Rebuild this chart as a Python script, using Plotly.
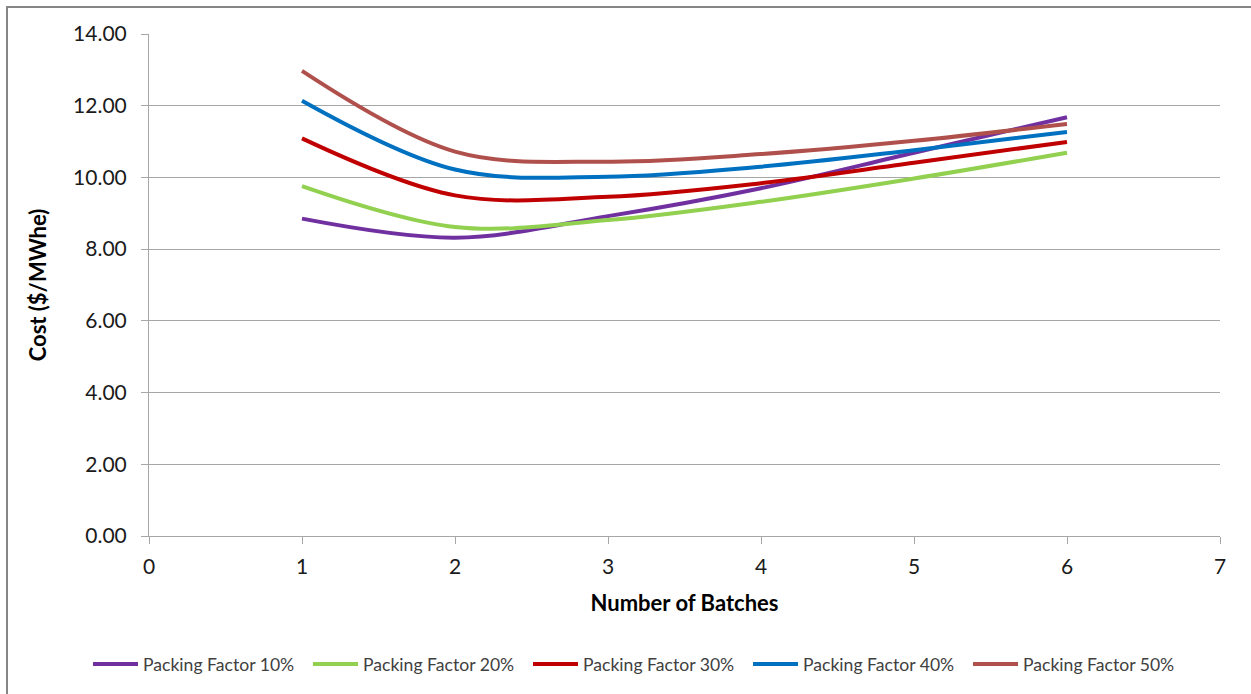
import plotly.graph_objects as go

# Fuel cycle cost versus number of batches, one series per packing factor
batches = [1, 2, 3, 4, 5, 6]
pf10 = [8.85, 8.32, 8.92, 9.70, 10.69, 11.68]
pf20 = [9.76, 8.62, 8.81, 9.32, 9.97, 10.69]
pf30 = [11.09, 9.50, 9.46, 9.84, 10.41, 10.99]
pf40 = [12.14, 10.22, 10.02, 10.30, 10.76, 11.27]
pf50 = [12.97, 10.72, 10.44, 10.65, 11.02, 11.49]

series = [
    ("Packing Factor 10%", pf10, "#7030A0"),
    ("Packing Factor 20%", pf20, "#92D050"),
    ("Packing Factor 30%", pf30, "#C00000"),
    ("Packing Factor 40%", pf40, "#0070C0"),
    ("Packing Factor 50%", pf50, "#B0504C"),
]

y_ticks = [0, 2, 4, 6, 8, 10, 12, 14]
x_ticks = [0, 1, 2, 3, 4, 5, 6, 7]

FONT = "Lato, Open Sans, sans-serif"

fig = go.Figure()
for name, vals, color in series:
    fig.add_trace(go.Scatter(
        x=batches, y=vals, name=name, mode="lines",
        line=dict(color=color, width=4, shape="spline", smoothing=1.0),
    ))

L, R, T, B = 149, 31, 34, 158
W, H = 1251, 694
pw, ph = W - L - R, H - T - B

def px_x(p):
    return (p - L) / pw

def px_y(p):
    return (H - B - p) / ph

fig.update_layout(
    width=W, height=H,
    margin=dict(l=L, r=R, t=T, b=B),
    paper_bgcolor="white", plot_bgcolor="white",
    font=dict(family=FONT, color="#000000"),
    showlegend=True,
    legend=dict(
        orientation="h", x=px_x(88), xanchor="left", y=px_y(664), yanchor="middle",
        font=dict(size=17.6, color="#404040", family=FONT),
        itemwidth=45, entrywidth=160, entrywidthmode="pixels", tracegroupgap=0,
    ),
    xaxis=dict(
        range=[0, 7], tickvals=x_ticks, ticktext=[str(v) for v in x_ticks],
        showgrid=False, zeroline=False,
        showline=True, linecolor="#A6A6A6", linewidth=1,
        ticks="outside", ticklen=7, tickcolor="#A6A6A6",
        ticklabelstandoff=5,
        tickfont=dict(size=21, family=FONT, color="#1a1a1a"),
        title=dict(text="<b>Number of Batches</b>", font=dict(size=22, family=FONT), standoff=18),
    ),
    yaxis=dict(
        range=[0, 14], tickvals=y_ticks, ticktext=[f"{v:.2f}" for v in y_ticks],
        showgrid=True, gridcolor="#A6A6A6", gridwidth=1, zeroline=False,
        showline=True, linecolor="#A6A6A6", linewidth=1,
        ticks="outside", ticklen=7, tickcolor="#A6A6A6",
        ticklabelstandoff=10,
        tickfont=dict(size=21, family=FONT, color="#1a1a1a"),
        title=dict(text="<b>Cost ($/MWhe)</b>", font=dict(size=22, family=FONT), standoff=20),
    ),
    shapes=[dict(
        type="rect", xref="paper", yref="paper",
        x0=px_x(7), x1=px_x(1262), y0=px_y(705), y1=px_y(7),
        line=dict(color="#868686", width=2), fillcolor="rgba(0,0,0,0)", layer="below",
    )],
)

fig.write_html("out.html")
